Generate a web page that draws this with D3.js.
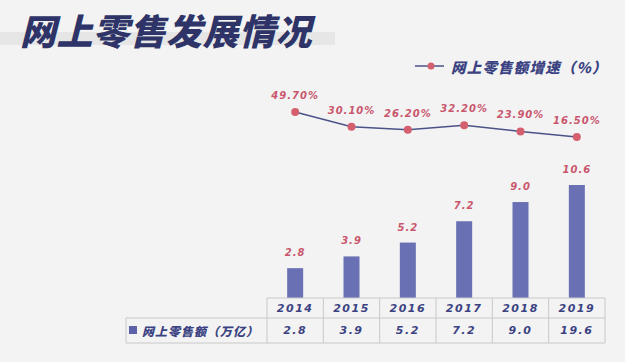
<!DOCTYPE html>
<html>
<head>
<meta charset="utf-8">
<script src="https://cdn.jsdelivr.net/npm/d3@7"></script>
<style>
  body { margin: 0; background: #f3f3f3; }
  svg { display: block; }
</style>
</head>
<body>
<div id="chart"></div>
<script>
// 数据
var years = ["2014", "2015", "2016", "2017", "2018", "2019"];
var salesValues = [2.8, 3.9, 5.2, 7.2, 9.0, 10.6];          // 柱子上的数值
var tableValues = ["2.8", "3.9", "5.2", "7.2", "9.0", "19.6"]; // 表格里的数值
var growthRates = [49.7, 30.1, 26.2, 32.2, 23.9, 16.5];       // 增速 (%)

var W = 625, H = 362;
var svg = d3.select("#chart").append("svg")
  .attr("width", W).attr("height", H);

svg.append("rect").attr("width", W).attr("height", H).attr("fill", "#f3f3f3");

var cjk = "'Noto Sans CJK SC', sans-serif";
var num = "'DejaVu Sans', sans-serif";
var navy = "#3b4282";
var pink = "#c9566d";

// 标题
svg.append("rect").attr("x", 0).attr("y", 32).attr("width", 335).attr("height", 13).attr("fill", "#e6e6e6");
svg.append("text")
  .attr("x", 20).attr("y", 29)
  .attr("dominant-baseline", "central")
  .style("font-family", cjk).style("font-weight", 900).style("font-style", "italic")
  .style("font-size", "36px").style("letter-spacing", "0.5px").attr("fill", "#2e3467")
  .text("网上零售发展情况");

// 图例
svg.append("line").attr("x1", 415).attr("x2", 444).attr("y1", 66).attr("y2", 66)
  .attr("stroke", "#4b5288").attr("stroke-width", 1.5);
svg.append("circle").attr("cx", 431).attr("cy", 66).attr("r", 3.5).attr("fill", "#d4606f");
svg.append("text")
  .attr("x", 451).attr("y", 66).attr("dominant-baseline", "central")
  .style("font-family", cjk).style("font-weight", 900).style("font-style", "italic")
  .style("font-size", "14.5px").style("letter-spacing", "1.2px").attr("fill", navy)
  .text("网上零售额增速（%）");

// 比例尺
var x = d3.scaleBand().domain(years).range([267, 605]);
var yBar = d3.scaleLinear().domain([0, 10.6]).range([298, 185]);
var yLine = d3.scaleLinear().domain([16.5, 49.7]).range([137, 112]);
var barW = 16;

// 柱子
svg.selectAll(".bar")
  .data(salesValues)
  .enter().append("rect")
  .attr("x", function(d, i) { return x(years[i]) + (x.bandwidth() - barW) / 2; })
  .attr("y", function(d) { return yBar(d); })
  .attr("width", barW)
  .attr("height", function(d) { return yBar(0) - yBar(d); })
  .attr("fill", "#6970b3");

svg.selectAll(".barLabel")
  .data(salesValues)
  .enter().append("text")
  .attr("x", function(d, i) { return x(years[i]) + x.bandwidth() / 2; })
  .attr("y", function(d) { return yBar(d) - 12; })
  .attr("text-anchor", "middle")
  .style("font-family", num).style("font-weight", "bold").style("font-style", "italic")
  .style("font-size", "10px").style("letter-spacing", "1px").attr("fill", pink)
  .text(function(d) { return d.toFixed(1); });

// 折线
var line = d3.line()
  .x(function(d, i) { return x(years[i]) + x.bandwidth() / 2; })
  .y(function(d) { return yLine(d); });

svg.append("path").datum(growthRates)
  .attr("d", line).attr("fill", "none")
  .attr("stroke", "#4b5288").attr("stroke-width", 1.5);

svg.selectAll(".dot")
  .data(growthRates)
  .enter().append("circle")
  .attr("cx", function(d, i) { return x(years[i]) + x.bandwidth() / 2; })
  .attr("cy", function(d) { return yLine(d); })
  .attr("r", 4).attr("fill", "#d4606f");

svg.selectAll(".rateLabel")
  .data(growthRates)
  .enter().append("text")
  .attr("x", function(d, i) { return x(years[i]) + x.bandwidth() / 2; })
  .attr("y", function(d) { return yLine(d) - 13; })
  .attr("text-anchor", "middle")
  .style("font-family", num).style("font-weight", "bold").style("font-style", "italic")
  .style("font-size", "10px").style("letter-spacing", "1px").attr("fill", pink)
  .text(function(d) { return d.toFixed(2) + "%"; });

// 表格
var rowTop = 298, rowMid = 318, rowBot = 343, tableLeft = 126;
var border = "#c8c8c8";
var tbl = svg.append("g").attr("stroke", border).attr("stroke-width", 1).attr("fill", "none");
tbl.append("line").attr("x1", 267).attr("x2", 605).attr("y1", rowTop).attr("y2", rowTop);
tbl.append("line").attr("x1", tableLeft).attr("x2", 605).attr("y1", rowMid).attr("y2", rowMid);
tbl.append("line").attr("x1", tableLeft).attr("x2", 605).attr("y1", rowBot).attr("y2", rowBot);
tbl.append("line").attr("x1", tableLeft).attr("x2", tableLeft).attr("y1", rowMid).attr("y2", rowBot);
tbl.selectAll(".vline")
  .data(years.concat(["end"]))
  .enter().append("line")
  .attr("x1", function(d, i) { return i < years.length ? x(d) : x.range()[1]; })
  .attr("x2", function(d, i) { return i < years.length ? x(d) : x.range()[1]; })
  .attr("y1", rowTop).attr("y2", rowBot);

svg.selectAll(".yearText")
  .data(years)
  .enter().append("text")
  .attr("x", function(d) { return x(d) + x.bandwidth() / 2; })
  .attr("y", (rowTop + rowMid) / 2)
  .attr("text-anchor", "middle").attr("dominant-baseline", "central")
  .style("font-family", num).style("font-weight", "bold").style("font-style", "italic")
  .style("font-size", "11px").style("letter-spacing", "1.5px").attr("fill", navy)
  .text(function(d) { return d; });

svg.selectAll(".valText")
  .data(tableValues)
  .enter().append("text")
  .attr("x", function(d, i) { return x(years[i]) + x.bandwidth() / 2; })
  .attr("y", (rowMid + rowBot) / 2)
  .attr("text-anchor", "middle").attr("dominant-baseline", "central")
  .style("font-family", num).style("font-weight", "bold").style("font-style", "italic")
  .style("font-size", "11px").style("letter-spacing", "1.5px").attr("fill", navy)
  .text(function(d) { return d; });

svg.append("rect").attr("x", 129).attr("y", 326).attr("width", 8).attr("height", 8).attr("fill", "#5a61a8");
svg.append("text")
  .attr("x", 142).attr("y", (rowMid + rowBot) / 2).attr("dominant-baseline", "central")
  .style("font-family", cjk).style("font-weight", 900).style("font-style", "italic")
  .style("font-size", "12px").style("letter-spacing", "1px").attr("fill", navy)
  .text("网上零售额（万亿）");
</script>
</body>
</html>
